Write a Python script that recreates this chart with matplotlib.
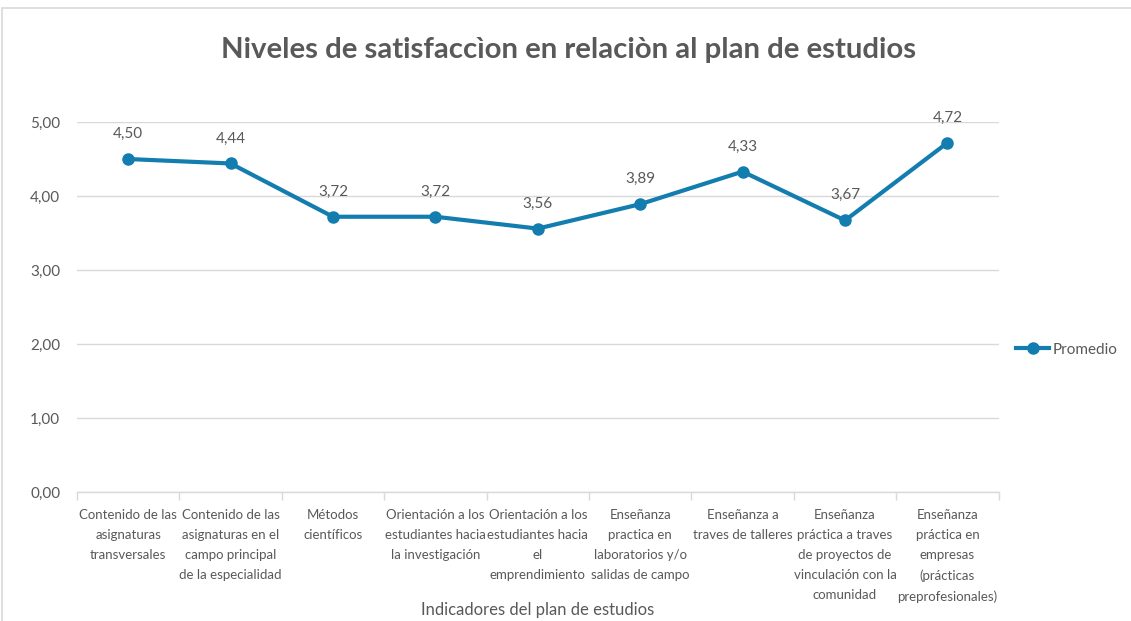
import matplotlib.pyplot as plt
from matplotlib.patches import Rectangle
import numpy as np

plt.rcParams['font.family'] = ['Lato', 'DejaVu Sans']

categorias = [
    'Contenido de las\nasignaturas\ntransversales',
    'Contenido de las\nasignaturas en el\ncampo principal\nde la especialidad',
    'Métodos\ncientíficos',
    'Orientación a los\nestudiantes hacia\nla investigación',
    'Orientación a los\nestudiantes hacia\nel\nemprendimiento',
    'Enseñanza\npractica en\nlaboratorios y/o\nsalidas de campo',
    'Enseñanza a\ntraves de talleres',
    'Enseñanza\npráctica a traves\nde proyectos de\nvinculación con la\ncomunidad',
    'Enseñanza\npráctica en\nempresas\n(prácticas\npreprofesionales)',
]
promedio = [4.50, 4.44, 3.72, 3.72, 3.56, 3.89, 4.33, 3.67, 4.72]

gris = '#595959'
azul = '#137DB0'

fig = plt.figure(figsize=(11.31, 6.21), dpi=100)
ax = fig.add_axes([0.068, 0.2077, 0.815, 0.5958])

# borde del área del gráfico
fig.patches.append(Rectangle((2 / 1131, -0.1), 1.2, 1 - 8 / 621 + 0.1,
                             transform=fig.transFigure, fill=False,
                             edgecolor='#D9D9D9', linewidth=1.2))

x = np.arange(len(categorias))
ax.plot(x, promedio, color=azul, linewidth=3, marker='o', markersize=8,
        label='Promedio', zorder=3)

for xi, v in zip(x, promedio):
    ax.annotate(f'{v:.2f}'.replace('.', ','), (xi, v), xytext=(0, 13),
                textcoords='offset points', ha='center', va='bottom',
                fontsize=11, color=gris)

ax.set_xlim(-0.5, len(categorias) - 0.5)
ax.set_ylim(0, 5)
ax.set_yticks(np.arange(0, 5.01, 1))
ax.set_yticklabels([f'{t:.2f}'.replace('.', ',') for t in np.arange(0, 5.01, 1)])
ax.grid(axis='y', color='#D9D9D9', linewidth=1)
ax.set_axisbelow(True)

ax.set_xticks(x)
ax.set_xticklabels(categorias, fontsize=9.5, color=gris, linespacing=1.82, va='top')
ax.set_xticks(np.arange(-0.5, len(categorias), 1), minor=True)
ax.tick_params(axis='x', which='major', length=0, pad=12)
ax.tick_params(axis='x', which='minor', length=6, color='#D9D9D9', width=1)
ax.tick_params(axis='y', length=0, labelsize=11, labelcolor=gris, pad=12)

for s in ['top', 'right', 'left']:
    ax.spines[s].set_visible(False)
ax.spines['bottom'].set_color('#D9D9D9')
ax.spines['bottom'].set_linewidth(1)

fig.text(0.475, 0.018, 'Indicadores del plan de estudios', ha='center',
         va='center', fontsize=12, color=gris)
fig.text(0.503, 0.919, 'Niveles de satisfaccìon en relaciòn al plan de estudios',
         ha='center', va='center', fontsize=21.2, fontweight='bold', color=gris)

fig.legend(loc='center left', bbox_to_anchor=(0.886, 0.437), frameon=False,
           fontsize=11, labelcolor=gris, handlelength=2.2, handletextpad=0.2)

fig.savefig('out.png', dpi=100)
